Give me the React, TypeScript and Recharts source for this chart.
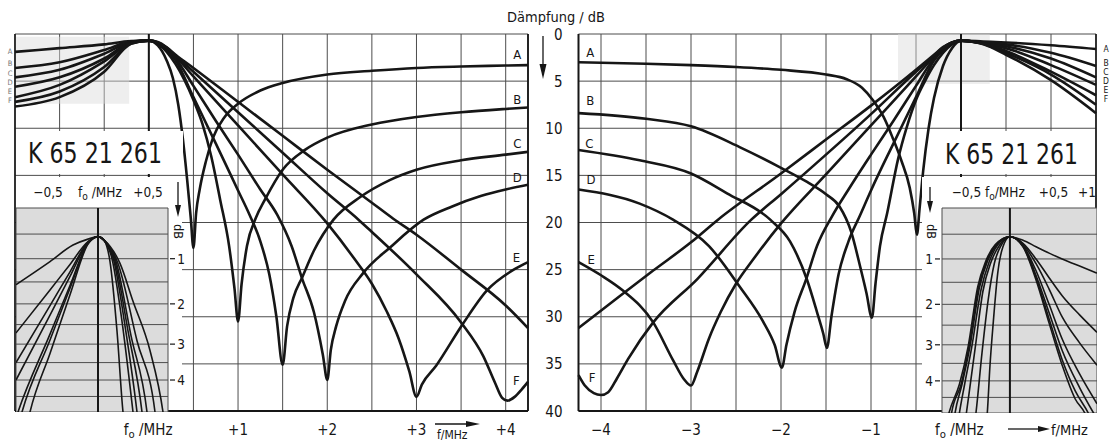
import React from 'react';
import { LineChart, Line, XAxis, YAxis, CartesianGrid, ReferenceLine, ReferenceArea, ReferenceDot } from 'recharts';

type P = [number, number]; // [offset from fo in MHz, attenuation in dB]

// upper-side traps (left panel)
const hiA: P[] = [[-1.5, 1.9], [-1, 1.5], [-0.5, 1.1], [-0.2, 0.75], [0, 0.7], [0.1, 1.2], [0.2, 2.8], [0.27, 4.7], [0.33, 7.5], [0.38, 11], [0.43, 15.5], [0.47, 19.5], [0.5, 22.7], [0.53, 19], [0.57, 16.5], [0.64, 13.5], [0.72, 11], [0.85, 8.8], [1, 7.4], [1.25, 6], [1.5, 5.2], [2, 4.3], [2.5, 3.9], [3, 3.6], [3.5, 3.45], [4, 3.35], [4.25, 3.3]];
const hiB: P[] = [[-1.5, 3.6], [-1, 3], [-0.5, 1.7], [-0.2, 0.8], [0, 0.7], [0.1, 1], [0.2, 1.9], [0.3, 3.2], [0.4, 4.9], [0.5, 7], [0.6, 9.5], [0.7, 13], [0.8, 17.6], [0.9, 22.5], [0.96, 27], [1, 30.5], [1.04, 26.5], [1.1, 22.5], [1.2, 19.5], [1.3, 17.6], [1.5, 14.4], [1.75, 12.3], [2, 11], [2.5, 9.6], [3, 8.8], [3.5, 8.3], [4, 7.95], [4.25, 7.8]];
const hiC: P[] = [[-1.5, 4.6], [-1, 3.8], [-0.5, 2.1], [-0.2, 0.85], [0, 0.7], [0.1, 0.95], [0.2, 1.7], [0.3, 2.8], [0.5, 6.7], [0.75, 11.6], [1, 16.6], [1.13, 19.2], [1.25, 22], [1.35, 25.5], [1.43, 30], [1.5, 35.1], [1.55, 31], [1.62, 28], [1.72, 25.8], [1.85, 23], [2.07, 19.7], [2.37, 17.3], [2.7, 15.5], [3, 14.4], [3.5, 13.4], [4, 12.8], [4.25, 12.5]];
const hiD: P[] = [[-1.5, 5.6], [-1, 4.6], [-0.5, 2.6], [-0.2, 0.9], [0, 0.7], [0.1, 0.95], [0.2, 1.6], [0.3, 2.6], [0.5, 5.5], [0.75, 9.2], [1, 12.8], [1.25, 16.5], [1.44, 19.2], [1.6, 22.5], [1.72, 26], [1.85, 29.5], [1.95, 34], [2, 36.7], [2.04, 33.5], [2.1, 31], [2.2, 28.3], [2.4, 25.4], [2.71, 22.6], [3.08, 19.7], [3.4, 18.3], [3.72, 17.2], [4, 16.5], [4.25, 16]];
const hiE: P[] = [[-1.5, 6.7], [-1, 5.4], [-0.5, 2.9], [-0.2, 0.95], [0, 0.7], [0.1, 0.9], [0.2, 1.5], [0.3, 2.4], [0.5, 4.5], [1, 9.7], [1.5, 14.9], [2, 20.1], [2.3, 23.8], [2.5, 26.5], [2.67, 29.5], [2.8, 32.3], [2.92, 35.8], [3, 38.5], [3.06, 37.2], [3.22, 35.2], [3.51, 30.9], [3.79, 27.2], [4.09, 25], [4.25, 24.2]];
const hiF: P[] = [[-1.5, 7.2], [-1, 6.1], [-0.5, 3.5], [-0.2, 1], [0, 0.7], [0.1, 0.9], [0.2, 1.45], [0.3, 2.3], [0.5, 4], [1, 8.3], [1.5, 12.6], [2, 16.9], [2.35, 19.7], [2.5, 21], [3, 25.5], [3.5, 30.6], [3.75, 34.2], [3.88, 37], [3.96, 38.6], [4.02, 38.9], [4.1, 38.5], [4.18, 37.7], [4.25, 36.9]];
const hiG: P[] = [[-1.5, 7.7], [-1, 6.7], [-0.5, 4], [-0.2, 1.05], [0, 0.7], [0.1, 0.85], [0.2, 1.4], [0.3, 2.2], [0.5, 3.6], [1, 7.2], [1.5, 10.8], [2, 14.4], [2.5, 17.9], [2.74, 19.6], [3, 21.3], [3.5, 25], [4, 28.8], [4.25, 31.2]];

// lower-side traps (right panel)
const loA: P[] = [[-4.25, 3], [-3.5, 3.15], [-3, 3.3], [-2.5, 3.5], [-2, 3.8], [-1.5, 4.3], [-1.27, 4.8], [-1.1, 5.7], [-0.98, 7], [-0.86, 8.8], [-0.76, 11], [-0.66, 13.5], [-0.57, 16.3], [-0.52, 19], [-0.49, 21.3], [-0.46, 18.5], [-0.42, 14.5], [-0.36, 10], [-0.3, 6.8], [-0.2, 3.4], [-0.1, 1.5], [0, 0.7], [0.25, 0.8], [0.5, 0.9], [1, 1.2], [1.5, 1.6]];
const loB: P[] = [[-4.25, 8.4], [-3.5, 9], [-3, 9.8], [-2.46, 12], [-2, 14.2], [-1.71, 15.7], [-1.5, 17], [-1.35, 18.3], [-1.22, 21], [-1.12, 24.7], [-1.05, 27.5], [-0.99, 30.1], [-0.95, 26.5], [-0.9, 22.5], [-0.82, 19], [-0.7, 13.3], [-0.6, 9.8], [-0.5, 7], [-0.4, 5], [-0.3, 3.3], [-0.2, 2], [-0.1, 1.1], [0, 0.7], [0.25, 0.9], [0.5, 1.1], [1, 2], [1.5, 3.4]];
const loC: P[] = [[-4.25, 12.3], [-3.57, 13.4], [-3, 14.8], [-2.6, 16.9], [-2.12, 19.7], [-1.9, 22], [-1.71, 26.1], [-1.6, 29.5], [-1.53, 31.8], [-1.49, 33.3], [-1.44, 30], [-1.36, 25.5], [-1.25, 22], [-1.12, 19.2], [-1, 16.6], [-0.75, 11.6], [-0.5, 6.7], [-0.3, 2.8], [-0.2, 1.7], [-0.1, 0.95], [0, 0.7], [0.25, 0.95], [0.5, 1.3], [1, 2.6], [1.5, 4.6]];
const loD: P[] = [[-4.25, 16.5], [-3.57, 18], [-3.2, 19.7], [-2.8, 22.5], [-2.46, 26.8], [-2.2, 30.5], [-2.07, 33], [-1.99, 35.4], [-1.94, 33], [-1.85, 29.5], [-1.72, 26], [-1.6, 22.5], [-1.43, 19.3], [-1.25, 16.5], [-1, 12.8], [-0.75, 9.2], [-0.5, 5.5], [-0.3, 2.6], [-0.2, 1.6], [-0.1, 0.95], [0, 0.7], [0.25, 1], [0.5, 1.5], [1, 3.3], [1.5, 5.4]];
const loE: P[] = [[-4.25, 24.2], [-4, 25.6], [-3.76, 27.2], [-3.42, 30.6], [-3.2, 34.6], [-3.08, 36.6], [-3, 37.3], [-2.93, 35.8], [-2.8, 32.3], [-2.67, 29.5], [-2.5, 26.5], [-2.3, 23.8], [-2, 20.1], [-1.5, 14.9], [-1, 9.7], [-0.5, 4.5], [-0.3, 2.4], [-0.2, 1.5], [-0.1, 0.9], [0, 0.7], [0.25, 1], [0.5, 1.8], [1, 4], [1.5, 6.5]];
const loF: P[] = [[-4.25, 36.2], [-4.18, 37.3], [-4.08, 38.1], [-4, 38.3], [-3.92, 38], [-3.82, 36.5], [-3.7, 34.5], [-3.42, 30.6], [-2.93, 26], [-2.33, 19.7], [-2, 17], [-1.5, 12.8], [-1, 8.5], [-0.5, 4], [-0.3, 2.3], [-0.2, 1.45], [-0.1, 0.9], [0, 0.7], [0.25, 1.05], [0.5, 2], [1, 4.3], [1.5, 7.5]];
const loG: P[] = [[-4.25, 31.2], [-3.79, 27.8], [-3.42, 25.1], [-3, 22.1], [-2.7, 19.7], [-2, 14.8], [-1.5, 11.2], [-1, 7.6], [-0.5, 3.8], [-0.3, 2.2], [-0.2, 1.4], [-0.1, 0.9], [0, 0.7], [0.25, 1.1], [0.5, 2.2], [1, 4.9], [1.5, 8.4]];

// passband detail, left inset
const passHiA: P[] = [[-0.82, 1.56], [-0.48, 1.06], [-0.25, 0.72], [-0.1, 0.6], [0, 0.55], [0.06, 0.62], [0.12, 1.06], [0.19, 2.66], [0.25, 5], [0.27, 5.6]];
const passHiB: P[] = [[-0.82, 2.71], [-0.48, 1.68], [-0.28, 1.12], [-0.1, 0.65], [0, 0.55], [0.06, 0.62], [0.14, 1], [0.24, 2.42], [0.35, 5], [0.37, 5.6]];
const passHiC: P[] = [[-0.82, 3.5], [-0.48, 2.04], [-0.28, 1.28], [-0.1, 0.66], [0, 0.55], [0.06, 0.62], [0.16, 1.06], [0.27, 2.53], [0.39, 5], [0.41, 5.6]];
const passHiD: P[] = [[-0.82, 4], [-0.48, 2.27], [-0.28, 1.38], [-0.1, 0.67], [0, 0.55], [0.06, 0.62], [0.17, 1.06], [0.3, 2.66], [0.44, 5], [0.46, 5.6]];
const passHiE: P[] = [[-0.82, 5.2], [-0.8, 5], [-0.48, 2.74], [-0.28, 1.58], [-0.1, 0.68], [0, 0.55], [0.06, 0.62], [0.18, 1.06], [0.33, 2.78], [0.49, 5], [0.51, 5.6]];
const passHiF: P[] = [[-0.8, 5.5], [-0.76, 5], [-0.48, 2.89], [-0.28, 1.64], [-0.1, 0.69], [0, 0.55], [0.06, 0.62], [0.2, 1.1], [0.39, 2.91], [0.57, 5], [0.59, 5.6]];
const passHiG: P[] = [[-0.72, 5.6], [-0.68, 5], [-0.48, 3.25], [-0.28, 1.79], [-0.1, 0.7], [0, 0.55], [0.06, 0.62], [0.22, 1.1], [0.35, 1.94], [0.52, 3.17], [0.65, 5], [0.67, 5.5]];

// passband detail, right inset
const passLoA: P[] = [[-0.28, 5.6], [-0.26, 5], [-0.23, 3.6], [-0.19, 2.4], [-0.14, 1.3], [-0.08, 0.75], [0, 0.55], [0.15, 0.62], [0.3, 0.75], [0.45, 0.88], [0.6, 1], [0.8, 1.15], [1, 1.3]];
const passLoB: P[] = [[-0.41, 5.5], [-0.39, 5], [-0.32, 3.2], [-0.25, 1.9], [-0.18, 1.1], [-0.1, 0.72], [0, 0.55], [0.15, 0.68], [0.3, 1], [0.45, 1.4], [0.6, 1.8], [0.8, 2.25], [1, 2.68]];
const passLoC: P[] = [[-0.53, 5.6], [-0.5, 5], [-0.45, 4], [-0.4, 3.1], [-0.31, 1.7], [-0.22, 1.08], [-0.12, 0.72], [0, 0.55], [0.15, 0.7], [0.3, 1.1], [0.45, 1.65], [0.6, 2.3], [0.8, 2.95], [1, 3.55]];
const passLoD: P[] = [[-0.6, 5.4], [-0.58, 5], [-0.52, 4.1], [-0.44, 3.08], [-0.33, 1.65], [-0.24, 1.07], [-0.14, 0.71], [0, 0.55], [0.15, 0.72], [0.3, 1.25], [0.45, 2], [0.6, 2.85], [0.8, 3.8], [1, 4.7]];
const passLoE: P[] = [[-0.65, 5.4], [-0.63, 5], [-0.55, 4.1], [-0.46, 3.06], [-0.35, 1.62], [-0.26, 1.06], [-0.15, 0.71], [0, 0.55], [0.15, 0.73], [0.3, 1.35], [0.45, 2.2], [0.6, 3.15], [0.8, 4.2], [0.96, 5], [1, 5.2]];
const passLoF: P[] = [[-0.69, 5.4], [-0.67, 5], [-0.56, 4.1], [-0.47, 3.05], [-0.36, 1.61], [-0.27, 1.06], [-0.16, 0.71], [0, 0.55], [0.15, 0.74], [0.3, 1.4], [0.45, 2.35], [0.6, 3.4], [0.75, 4.3], [0.9, 5], [0.95, 5.3]];
const passLoG: P[] = [[-0.74, 5.5], [-0.7, 5], [-0.58, 4.1], [-0.48, 3.05], [-0.37, 1.6], [-0.28, 1.06], [-0.17, 0.71], [0, 0.55], [0.15, 0.75], [0.3, 1.45], [0.45, 2.45], [0.6, 3.55], [0.75, 4.55], [0.86, 5], [0.92, 5.4]];

const curveNames = ['A', 'B', 'C', 'D', 'E', 'F'];
const hiCurves = [hiA, hiB, hiC, hiD, hiE, hiF, hiG];
const loCurves = [loA, loB, loC, loD, loE, loF, loG];
const passHi = [passHiA, passHiB, passHiC, passHiD, passHiE, passHiF, passHiG];
const passLo = [passLoA, passLoB, passLoC, passLoD, passLoE, passLoF, passLoG];

const dbTicks = [0, 5, 10, 15, 20, 25, 30, 35, 40];
const hiTicks = [-1.5, -1, -0.5, 0, 0.5, 1, 1.5, 2, 2.5, 3, 3.5, 4, 4.25];
const loTicks = [-4.25, -4, -3.5, -3, -2.5, -2, -1.5, -1, -0.5, 0, 0.5, 1, 1.5];
const passDb = [0, 0.5, 1, 1.5, 2, 2.5, 3, 3.5, 4, 4.5, 5];
const passHiTicks = [-0.82, -0.5, 0, 0.5, 0.7];
const passLoTicks = [-0.78, -0.5, 0, 0.5, 1];

const INK = '#161616';
const GRID = '#4d4d4d';
const FONT = "'DejaVu Sans Condensed', 'Liberation Sans Narrow', Roboto, 'Liberation Sans', sans-serif";

const pts = (arr: P[]) => arr.map(([f, db]) => ({ f, db }));
const toV = (db: number) => Math.pow(10, -db / 20);
const passPts = (arr: P[]) => arr.map(([f, db]) => ({ f, v: toV(db) }));

const signed = (v: number, comma = false) => {
  const s = String(Math.abs(v));
  const t = comma ? s.replace('.', ',') : s;
  return v > 0 ? `+${t}` : v < 0 ? `\u2212${t}` : t;
};

const FoText = ({ x, y, lead, size, rest }: any) => (
  <text x={x - lead} y={y} fontSize={size} fill={INK} fontFamily={FONT}>
    f<tspan fontSize={size * 0.75} dy={size * 0.2}>o</tspan>
    <tspan dy={-size * 0.2}>{rest}</tspan>
  </text>
);

// labels: which tick values get text; edge: a value whose label is pulled inside (right-aligned)
const freqTick = (labels: number[], dy: number, size: number, lead: number, rest: string, comma = false, edge?: number) =>
  (props: any) => {
    const { x, y, payload } = props;
    const v = payload.value;
    if (!labels.some((l) => Math.abs(l - v) < 1e-6)) return <g />;
    if (Math.abs(v) < 1e-6) return <FoText x={x} y={y + dy} lead={lead} size={size} rest={rest} />;
    const atEdge = edge !== undefined && Math.abs(edge - v) < 1e-6;
    return (
      <text x={atEdge ? x - 1 : x} y={y + dy} textAnchor={atEdge ? 'end' : 'middle'} fontSize={size} fill={INK} fontFamily={FONT}>
        {signed(v, comma)}
      </text>
    );
  };

const dbTick = (props: any) => (
  <text x={props.x - 16} y={props.y + 5.5} textAnchor="end" fontSize={15} fill={INK} fontFamily={FONT}>
    {props.payload.value}
  </text>
);

const passDbTick = (side: 'left' | 'right') => (props: any) => {
  const db = Math.round(-20 * Math.log10(props.payload.value) * 10) / 10;
  if (!Number.isInteger(db) || db < 1 || db > 4) return <g />;
  const d = side === 'right' ? 1 : -1;
  return (
    <g>
      <line x1={props.x + d * 2} x2={props.x + d * 7} y1={props.y} y2={props.y} stroke={INK} strokeWidth={1.2} />
      <text x={props.x + d * 13} y={props.y + 5} textAnchor="middle" fontSize={13.5} fill={INK} fontFamily={FONT}>
        {db}
      </text>
    </g>
  );
};

const box = (left: number, top: number, width: number, height: number): React.CSSProperties => ({
  position: 'absolute', left, top, width, height, background: '#fff',
});

const letter = (value: string) => ({ value, position: 'center' as const, fontSize: 13, fill: INK, fontFamily: FONT });

export default function App() {
  return (
    <div style={{ position: 'absolute', left: 0, top: 0, width: 1116, height: 440, background: '#fff', overflow: 'hidden' }}>
      {/* upper side */}
      <div style={{ position: 'absolute', left: 0, top: 0 }}>
        <LineChart width={545} height={440} margin={{ top: 4, right: 17, bottom: 9, left: 15 }}>
          <CartesianGrid stroke={GRID} strokeWidth={1} />
          <XAxis dataKey="f" type="number" domain={[-1.5, 4.25]} ticks={hiTicks} interval={0} height={20}
            tickSize={0} tickMargin={0} axisLine={false} tickLine={false} tick={freqTick([0, 1, 2, 3, 4], 24, 15, 25, ' /MHz')} />
          <XAxis xAxisId="top" orientation="top" dataKey="f" type="number" domain={[-1.5, 4.25]} ticks={[-1, 0]} interval={0} height={30}
            tickSize={0} tickMargin={0} axisLine={false} tickLine={false} tick={freqTick([-1, 0], -6, 14.5, 16, ' / MHz')} />
          <YAxis type="number" domain={[0, 40]} ticks={dbTicks} reversed hide />
          <ReferenceArea x1={-1.5} x2={-0.22} y1={0.3} y2={7.4} fill="#d9d9d9" fillOpacity={0.45} stroke="none" />
          <ReferenceLine x={0} stroke={INK} strokeWidth={2} />
          <ReferenceLine x={-1.5} stroke={INK} strokeWidth={1.6} />
          <ReferenceLine x={4.25} stroke={INK} strokeWidth={1.8} />
          <ReferenceLine y={40} stroke={INK} strokeWidth={1.8} />
          {hiCurves.map((c, i) => (
            <Line key={i} data={pts(c)} dataKey="db" type="monotone" dot={false} stroke={INK} strokeWidth={2.6} isAnimationActive={false} />
          ))}
          <ReferenceDot x={4.13} y={2.2} r={0} fill="none" stroke="none" label={letter('A')} />
          <ReferenceDot x={4.13} y={6.9} r={0} fill="none" stroke="none" label={letter('B')} />
          <ReferenceDot x={4.13} y={11.6} r={0} fill="none" stroke="none" label={letter('C')} />
          <ReferenceDot x={4.13} y={15.2} r={0} fill="none" stroke="none" label={letter('D')} />
          <ReferenceDot x={4.12} y={23.7} r={0} fill="none" stroke="none" label={letter('E')} />
          <ReferenceDot x={4.12} y={36.7} r={0} fill="none" stroke="none" label={letter('F')} />
        </LineChart>
      </div>

      {/* lower side */}
      <div style={{ position: 'absolute', left: 530, top: 0 }}>
        <LineChart width={586} height={440} margin={{ top: 4, right: 20, bottom: 9, left: 0 }}>
          <CartesianGrid stroke={GRID} strokeWidth={1} />
          <XAxis dataKey="f" type="number" domain={[-4.25, 1.5]} ticks={loTicks} interval={0} height={20}
            tickSize={0} tickMargin={0} axisLine={false} tickLine={false} tick={freqTick([-4, -3, -2, -1, 0], 24, 15, 26, ' /MHz')} />
          <XAxis xAxisId="top" orientation="top" dataKey="f" type="number" domain={[-4.25, 1.5]} ticks={[0, 1]} interval={0} height={30}
            tickSize={0} tickMargin={0} axisLine={false} tickLine={false} tick={freqTick([0, 1], -3, 14.5, 16, ' / MHz')} />
          <YAxis type="number" domain={[0, 40]} ticks={dbTicks} reversed width={48.5} interval={0}
            tickSize={0} tickMargin={0} axisLine={false} tickLine={false} tick={dbTick} />
          <ReferenceArea x1={-0.7} x2={0.32} y1={0} y2={5.3} fill="#d9d9d9" fillOpacity={0.45} stroke="none" />
          <ReferenceLine x={0} stroke={INK} strokeWidth={2} />
          <ReferenceLine x={-4.25} stroke={INK} strokeWidth={2} />
          <ReferenceLine x={1.5} stroke={INK} strokeWidth={1.6} />
          <ReferenceLine y={40} stroke={INK} strokeWidth={1.8} />
          {loCurves.map((c, i) => (
            <Line key={i} data={pts(c)} dataKey="db" type="monotone" dot={false} stroke={INK} strokeWidth={2.6} isAnimationActive={false} />
          ))}
          <ReferenceDot x={-4.12} y={2.0} r={0} fill="none" stroke="none" label={letter('A')} />
          <ReferenceDot x={-4.12} y={7.0} r={0} fill="none" stroke="none" label={letter('B')} />
          <ReferenceDot x={-4.13} y={11.6} r={0} fill="none" stroke="none" label={letter('C')} />
          <ReferenceDot x={-4.11} y={15.4} r={0} fill="none" stroke="none" label={letter('D')} />
          <ReferenceDot x={-4.11} y={23.9} r={0} fill="none" stroke="none" label={letter('E')} />
          <ReferenceDot x={-4.1} y={36.4} r={0} fill="none" stroke="none" label={letter('F')} />
        </LineChart>
      </div>

      {/* type number plates and inset backgrounds */}
      <div style={box(17, 131, 166, 43)} />
      <div style={box(17, 177, 165, 233)} />
      <div style={box(940, 131, 155, 43)} />
      <div style={box(922, 177, 173, 233)} />

      {/* passband detail, upper side */}
      <div style={{ position: 'absolute', left: 16, top: 178 }}>
        <LineChart width={176} height={234} margin={{ top: 0, right: 0, bottom: 0, left: 0 }}>
          <CartesianGrid stroke={GRID} strokeWidth={1} fill="#dcdcdc" />
          <XAxis dataKey="f" type="number" domain={[-0.82, 0.7]} ticks={passHiTicks} allowDataOverflow height={0}
            axisLine={false} tickLine={false} tick={false} />
          <XAxis xAxisId="top" orientation="top" dataKey="f" type="number" domain={[-0.82, 0.7]} ticks={[-0.5, 0, 0.5]} allowDataOverflow interval={0} height={30}
            tickSize={0} tickMargin={0} axisLine={false} tickLine={false} tick={freqTick([-0.5, 0, 0.5], -11, 13.5, 20, ' /MHz', true)} />
          <YAxis orientation="right" type="number" domain={[toV(5), 1]} ticks={passDb.map(toV)} allowDataOverflow width={24} interval={0}
            tickSize={0} tickMargin={0} axisLine={false} tickLine={false} tick={passDbTick('right')} />
          <ReferenceLine x={0} stroke={INK} strokeWidth={2} />
          {passHi.map((c, i) => (
            <Line key={i} data={passPts(c)} dataKey="v" type="monotone" dot={false} stroke={INK} strokeWidth={1.6} isAnimationActive={false} />
          ))}
        </LineChart>
      </div>

      {/* passband detail, lower side */}
      <div style={{ position: 'absolute', left: 918, top: 178 }}>
        <LineChart width={179} height={235} margin={{ top: 0, right: 0, bottom: 0, left: 0 }}>
          <CartesianGrid stroke={GRID} strokeWidth={1} fill="#dcdcdc" />
          <XAxis dataKey="f" type="number" domain={[-0.78, 1]} ticks={passLoTicks} allowDataOverflow height={0}
            axisLine={false} tickLine={false} tick={false} />
          <XAxis xAxisId="top" orientation="top" dataKey="f" type="number" domain={[-0.78, 1]} ticks={[-0.5, 0, 0.5, 1]} allowDataOverflow interval={0} height={30}
            tickSize={0} tickMargin={0} axisLine={false} tickLine={false} tick={freqTick([-0.5, 0, 0.5, 1], -11, 13.5, 25, '/MHz', true, 1)} />
          <YAxis orientation="left" type="number" domain={[toV(5), 1]} ticks={passDb.map(toV)} allowDataOverflow width={24} interval={0}
            tickSize={0} tickMargin={0} axisLine={false} tickLine={false} tick={passDbTick('left')} />
          <ReferenceLine x={0} stroke={INK} strokeWidth={2} />
          {passLo.map((c, i) => (
            <Line key={i} data={passPts(c)} dataKey="v" type="monotone" dot={false} stroke={INK} strokeWidth={1.6} isAnimationActive={false} />
          ))}
        </LineChart>
      </div>

      {/* titles and annotations */}
      <svg width={1116} height={440} style={{ position: 'absolute', left: 0, top: 0, pointerEvents: 'none' }} fontFamily={FONT} fill={INK}>
        <text x={507} y={22} fontSize={13.5} textLength={98} lengthAdjust="spacingAndGlyphs">Dämpfung / dB</text>
        <line x1={543} y1={36} x2={543} y2={66} stroke={INK} strokeWidth={1.3} />
        <polygon points="539.5,64 546.5,64 543,79" />

        <text x={28} y={163} fontSize={29} textLength={134} lengthAdjust="spacingAndGlyphs">K 65 21 261</text>
        <text x={945} y={164} fontSize={29} textLength={133} lengthAdjust="spacingAndGlyphs">K 65 21 261</text>

        <line x1={435} y1={424} x2={468} y2={424} stroke={INK} strokeWidth={1.3} />
        <polygon points="466,421 480,424 466,427" />
        <text x={437} y={438.5} fontSize={12}>f/MHz</text>
        <line x1={1008} y1={429} x2={1040} y2={429} stroke={INK} strokeWidth={1.3} />
        <polygon points="1038,426 1050,429 1038,432" />
        <text x={1051} y={435} fontSize={14.5}>f/MHz</text>

        <line x1={178} y1={182} x2={178} y2={207} stroke={INK} strokeWidth={1.3} />
        <polygon points="175,205 181,205 178,217" />
        <text x={0} y={0} fontSize={12.5} transform="translate(174,224) rotate(90)">dB</text>
        <line x1={930} y1={187} x2={930} y2={203} stroke={INK} strokeWidth={1.3} />
        <polygon points="927,201 933,201 930,213" />
        <text x={0} y={0} fontSize={12.5} transform="translate(927,224) rotate(90)">dB</text>

        {curveNames.map((n, i) => (
          <text key={'l' + n} x={10} y={[54, 66, 76, 85, 94, 103][i]} fontSize={7.5} textAnchor="middle" fill="#777">{n}</text>
        ))}
        {curveNames.map((n, i) => (
          <text key={'r' + n} x={1106} y={[52, 66, 75, 84, 93, 102][i]} fontSize={8.5} textAnchor="middle">{n}</text>
        ))}
      </svg>
    </div>
  );
}
